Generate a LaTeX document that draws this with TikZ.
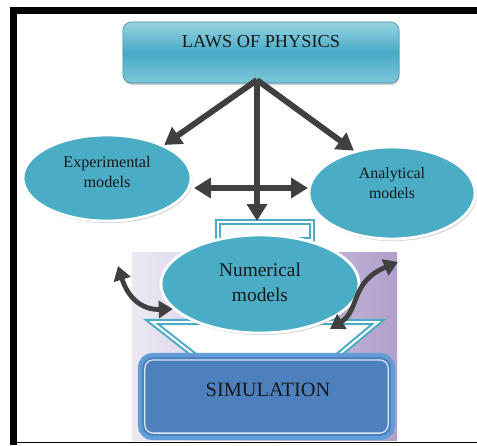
\documentclass[tikz,border=0pt]{standalone}
\usepackage{fontspec}
\setmainfont{Liberation Serif}
\usetikzlibrary{positioning,calc}
\usetikzlibrary{arrows.meta,shapes.geometric,shadows}
\definecolor{LawTop}{RGB}{152,212,226}
\definecolor{LawMid}{RGB}{70,170,198}
\definecolor{ModelTeal}{RGB}{75,172,198}
\definecolor{ArrowGray}{RGB}{64,64,64}
\definecolor{LilacLight}{RGB}{236,232,243}
\definecolor{LilacDark}{RGB}{176,160,203}
\definecolor{SimFill}{RGB}{78,128,190}
\definecolor{SimRim}{RGB}{96,156,214}
\tikzset{
  lawbox/.style={rectangle,rounded corners=6pt,draw=LawMid!80!black,line width=0.4pt,
    top color=LawTop,bottom color=LawTop!70!LawMid,middle color=LawMid,
    drop shadow={shadow xshift=0.5pt,shadow yshift=-1.5pt,opacity=0.35}},
  model/.style={ellipse,draw=white,line width=2pt,fill=ModelTeal,
    drop shadow={shadow xshift=1pt,shadow yshift=-1.5pt,opacity=0.35}},
  lbl/.style={align=center,text=black!90,inner sep=0pt},
  bigarrow/.style={draw=ArrowGray,line width=4.2pt,-{Triangle[width=14pt,length=12pt]}},
  twoway/.style={draw=ArrowGray,line width=4.2pt,{Triangle[width=14pt,length=12pt]}-{Triangle[width=14pt,length=12pt]}},
  curvy/.style={draw=ArrowGray,line width=3.4pt,{Triangle[width=12pt,length=10pt]}-{Triangle[width=12pt,length=10pt]}},
  funnel/.style={draw=ModelTeal,double=white,double distance=1.4pt,line width=1.5pt,fill=white},
  simbox/.style={rectangle,rounded corners=9pt,draw=SimRim,line width=3pt,fill=SimFill},
  simrim/.style={draw=white!75!SimRim,line width=0.9pt,rounded corners=6pt},
}

\begin{document}
\begin{tikzpicture}[x=0.025cm,y=-0.025cm]
\useasboundingbox (0,0) rectangle (477,445);
\fill[white] (0,0) rectangle (477,445);
\draw[black,line width=5pt] (10,10.5) -- (477,10.5);
\draw[black,line width=5pt] (13.5,8) -- (13.5,445);
\draw[black,line width=1.4pt] (13.5,442.5) -- (477,442.5);
\fill[left color=LilacLight,right color=LilacDark] (132,252) rectangle (397,440);
\node[funnel,minimum width=2.35cm,minimum height=0.45cm,inner sep=0pt] (funtop) at (265,231) {};
\filldraw[funnel] (152,322) -- (378,322) -- (330,362) -- (203,362) -- cycle;
\node[simbox,minimum width=6.325cm,minimum height=2.075cm] (sim) at (266.5,396.5) {};
\draw[simrim] ($(sim.south west)+(7,-7)$) rectangle ($(sim.north east)+(-7,7)$);
\node[lbl,font=\fontsize{14.5}{17}\selectfont] (simt) at (268,390) {SIMULATION};
\node[model,minimum width=4.95cm,minimum height=2.45cm] (num) at (260,284) {};
\node[lbl,font=\fontsize{13.8}{17.7}\selectfont] (numt) at (260,282) {Numerical\\models};
\node[model,minimum width=4.2cm,minimum height=2.15cm] (expm) at (107,178) {};
\node[lbl,font=\fontsize{11.5}{14.2}\selectfont] (expt) at (107,172) {Experimental\\models};
\node[model,minimum width=4.15cm,minimum height=2.3cm] (ana) at (392,193) {};
\node[lbl,font=\fontsize{11.3}{14.2}\selectfont] (anat) at (392,183) {Analytical\\models};
\node[lawbox,minimum width=6.9cm,minimum height=1.525cm] (laws) at (261,52.5) {};
\node[lbl,font=\fontsize{13}{15}\selectfont] (lawt) at (261,42) {LAWS OF PHYSICS};
\coordinate (hub) at (257,80);
\coordinate (hl) at (194,188);
\coordinate (hr) at (308,188);
\coordinate (cl) at (118,266);
\coordinate (cr) at (330,329);
\coordinate (ct) at (398,262);
\draw[bigarrow] (hub) -- (expm.30);
\draw[bigarrow] (hub) -- (ana.132);
\draw[twoway] (hl) -- (hr);
\draw[bigarrow] (hub) -- (funtop.north -| hub);
\draw[curvy] (cl) .. controls (128,298) and (142,310) .. (num.196);
\draw[curvy] (cr) .. controls (360,310) and (350,282) .. (ct);
\end{tikzpicture}
\end{document}
